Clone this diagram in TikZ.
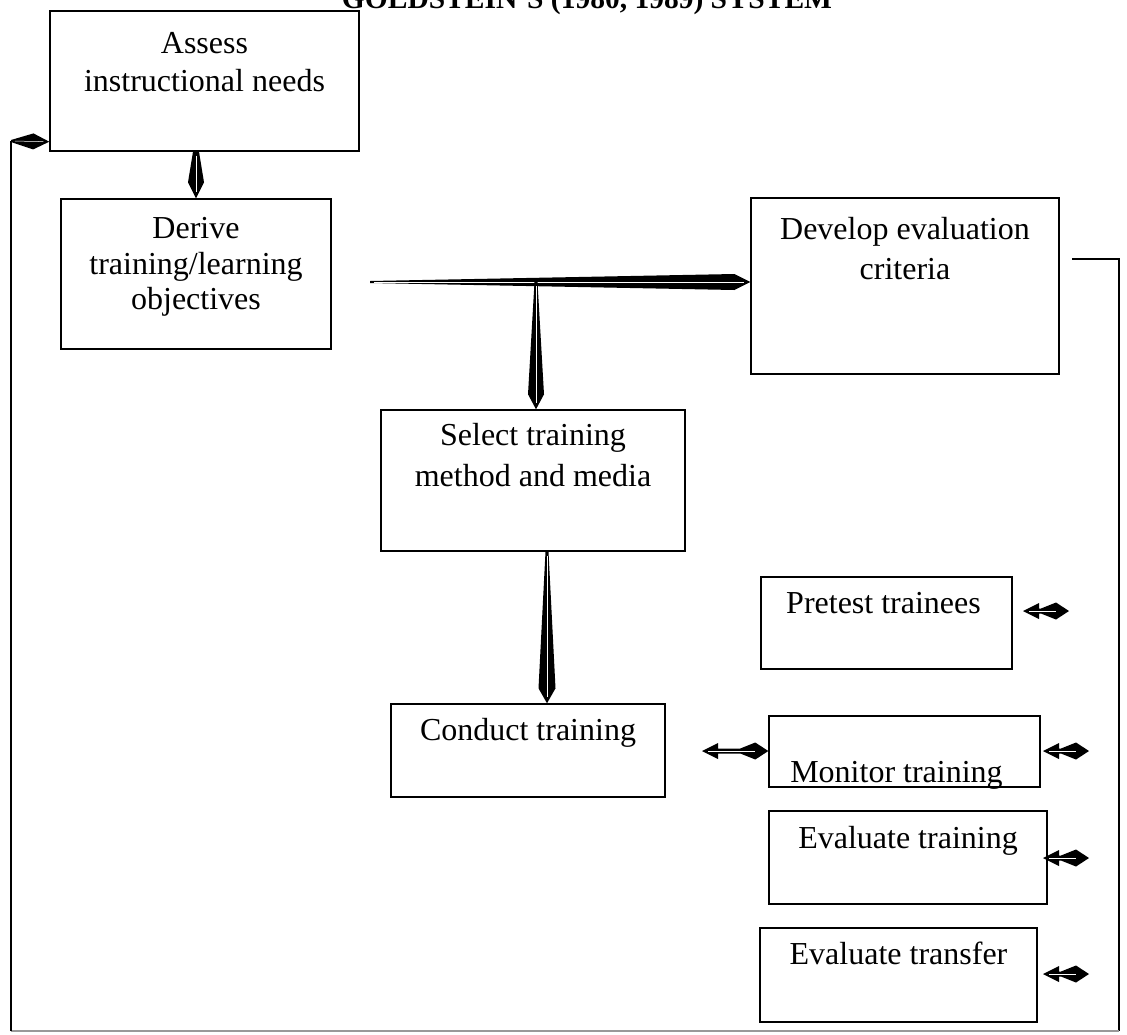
\documentclass[tikz,border=0pt]{standalone}
\usepackage{fontspec}
\setmainfont{Liberation Serif}
\usepackage{tikz}
\usetikzlibrary{positioning}
\usetikzlibrary{calc}

\newcommand{\boxfont}{\fontsize{32}{37}\selectfont}
\newcommand{\titlefont}{\fontsize{29.5}{34}\selectfont\bfseries}

% tapered arrow: start, tip, half width at start, half width at shoulder, head length
\newcommand{\taper}[5]{%
    \coordinate (tp-s) at ($(#2)!#5!(#1)$);
    \fill ($(#1)!#3!90:(#2)$) -- ($(tp-s)!#4!90:(#2)$) -- (#2)
        -- ($(tp-s)!#4!-90:(#2)$) -- ($(#1)!#3!-90:(#2)$) -- cycle;
    \draw[white,line width=.5pt] ($(#1)!4pt!(#2)$) -- ($(#2)!6pt!(#1)$);
}

% short arrow: pointed end, diamond end
\newcommand{\twohead}[2]{%
    \coordinate (th-h) at ($(#1)!16pt!(#2)$);
    \coordinate (th-d) at ($(#2)!28pt!(#1)$);
    \coordinate (th-m) at ($(#2)!13pt!(#1)$);
    \fill (#1) -- ($(th-h)!8pt!90:(#2)$) -- ($(th-h)!2.5pt!90:(#2)$)
        -- ($(th-d)!2.5pt!90:(#2)$) -- ($(th-m)!8.5pt!90:(#2)$) -- (#2)
        -- ($(th-m)!8.5pt!-90:(#2)$) -- ($(th-d)!2.5pt!-90:(#2)$)
        -- ($(th-h)!2.5pt!-90:(#2)$) -- ($(th-h)!8pt!-90:(#2)$) -- cycle;
    \draw[white,line width=.4pt] ($(#1)!6pt!(#2)$) -- (th-m);
}

\begin{document}
\begin{tikzpicture}[x=1pt,y=-1pt,
    box/.style={draw,line width=1.4pt,inner sep=0pt},
    boxtext/.style={font=\boxfont,align=center,inner sep=0pt},
    loopline/.style={line width=1.4pt}]
    \useasboundingbox (0,0) rectangle (1127,1034);

    \node[font=\titlefont,anchor=base] (title) at (587,8) {GOLDSTEIN’S (1980, 1989) SYSTEM};

    \node[box,minimum width=309pt,minimum height=140pt,
        label={[boxtext,below=22pt]north:Assess\\[1pt]instructional needs}] (assess) at (204.5,81) {};
    \node[box,minimum width=270pt,minimum height=150pt,
        label={[boxtext,below=19pt]north:Derive\\[-1.5pt]training/learning\\[-1.5pt]objectives}] (derive) at (196,274) {};
    \node[box,minimum width=308pt,minimum height=176pt,
        label={[boxtext,below=20pt]north:Develop evaluation\\[3pt]criteria}] (develop) at (905,286) {};
    \node[box,minimum width=304pt,minimum height=141pt,
        label={[boxtext,below=14pt]north:Select training\\[4pt]method and media}] (select) at (533,480.5) {};
    \node[box,minimum width=274pt,minimum height=93pt,
        label={[boxtext,below=15pt]north:Conduct training}] (conduct) at (528,750.5) {};

    \node[box,minimum width=251pt,minimum height=92pt,
        label={[boxtext,below=16pt,xshift=-3pt]north:Pretest trainees}] (pretest) at (886.5,623) {};
    \node[box,minimum width=271pt,minimum height=71pt,
        label={[boxtext,below=46pt,xshift=-8pt]north:Monitor training}] (monitor) at (904.5,751.5) {};
    \node[box,minimum width=278pt,minimum height=93pt,
        label={[boxtext,below=16pt]north:Evaluate training}] (evaltrain) at (908,857.5) {};
    \node[box,minimum width=277pt,minimum height=94pt,
        label={[boxtext,below=14pt]north:Evaluate transfer}] (evaltrans) at (898.5,975) {};

    % main flow
    \coordinate (a1) at (assess.south -| derive.north);
    \taper{a1}{derive.north}{3pt}{8pt}{16pt}

    \coordinate (fork) at (370,282);
    \coordinate (fork-end) at (fork -| develop.west);
    \taper{fork}{fork-end}{1pt}{8pt}{16pt}

    \coordinate (drop) at (536,282);
    \coordinate (drop-end) at (drop |- select.north);
    \taper{drop}{drop-end}{1.5pt}{8pt}{15pt}

    \coordinate (s4) at ([xshift=14pt]select.south);
    \coordinate (s4-end) at (s4 |- conduct.north);
    \taper{s4}{s4-end}{1.5pt}{8.5pt}{15pt}

    % feedback loop
    \coordinate (devout) at (1072,259);
    \coordinate (rtop) at (1119,259);
    \coordinate (rbot) at (1119,1031);
    \coordinate (lbot) at (11,1031);
    \coordinate (fb) at (11,141);
    \coordinate (fb-end) at ([yshift=10pt]assess.south west);
    \draw[loopline] (devout) -- (rtop) -- (rbot);
    \draw[loopline,black!40] (rbot) -- (lbot);
    \draw[loopline] (lbot) -- (fb);
    \taper{fb}{fb-end}{1pt}{8pt}{16pt}

    % side arrows
    \coordinate (ml) at (702,751);
    \coordinate (ml-end) at (ml -| monitor.west);
    \twohead{ml}{ml-end}
    \foreach \xa/\ya in {1023/611,1043/751,1043/858,1043/974}{
        \coordinate (sl) at (\xa,\ya);
        \coordinate (sr) at (\xa+46,\ya);
        \twohead{sl}{sr}
    }
\end{tikzpicture}
\end{document}
